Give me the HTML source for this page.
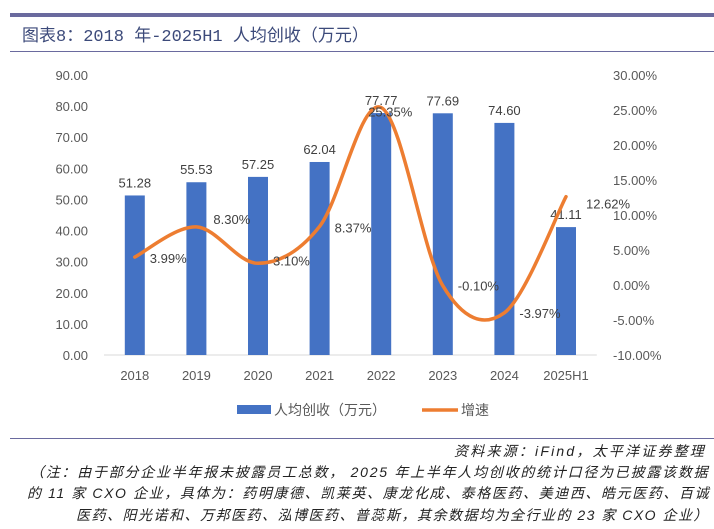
<!DOCTYPE html>
<html><head><meta charset="utf-8"><style>
body{margin:0;width:714px;height:529px;background:#fff;overflow:hidden;font-family:"Liberation Sans","Noto Sans CJK SC",sans-serif;}
.t{position:absolute;white-space:nowrap;}
</style></head><body>
<div style="position:absolute;left:10px;top:13px;width:704px;height:4px;background:#6a6a9e"></div>
<div class="t" style="left:22px;top:21px;font-size:17px;color:#3c4a7a;font-family:'Liberation Mono','Noto Sans CJK SC',sans-serif">图表8：2018 年-2025H1 人均创收（万元）</div>
<div style="position:absolute;left:10px;top:51px;width:704px;height:1px;background:#6a6a9e"></div>
<svg id="c" width="714" height="440" style="position:absolute;left:0;top:0" font-family="Liberation Sans, Noto Sans CJK SC, sans-serif"></svg>
<div style="position:absolute;left:10px;top:438px;width:704px;height:1px;background:#6a6a9e"></div>
<div class="t" style="right:8px;top:441px;font-size:14px;font-style:italic;color:#222;letter-spacing:2.2px">资料来源：iFind，太平洋证券整理</div>
<div class="t" style="left:30px;top:462px;font-size:14px;font-style:italic;color:#222;letter-spacing:1.75px">（注：由于部分企业半年报未披露员工总数， 2025 年上半年人均创收的统计口径为已披露该数据</div>
<div class="t" style="left:27px;top:483px;font-size:14px;font-style:italic;color:#222;letter-spacing:1.6px">的 11 家 CXO 企业，具体为：药明康德、凯莱英、康龙化成、泰格医药、美迪西、皓元医药、百诚</div>
<div class="t" style="left:76px;top:505px;font-size:14px;font-style:italic;color:#222;letter-spacing:1.5px">医药、阳光诺和、万邦医药、泓博医药、普蕊斯，其余数据均为全行业的 23 家 CXO 企业）</div>
<script>
const categories=["2018","2019","2020","2021","2022","2023","2024","2025H1"];
const revenue=[51.28,55.53,57.25,62.04,77.77,77.69,74.60,41.11];
const growth=[3.99,8.30,3.10,8.37,25.35,-0.10,-3.97,12.62];
const leftTicks=[0,10,20,30,40,50,60,70,80,90];
const rightTicks=[-10,-5,0,5,10,15,20,25,30];
const growthLabelDx=[15,17,15,15,-13,15,15,20];
const growthLabelDy=[6,-3,2,6,9,5,5,12];
const svg=document.getElementById('c');
const NS='http://www.w3.org/2000/svg';
const x0=104,step=61.6,yTop=75,yBot=355;
const xc=i=>x0+step*(i+0.5);
const yL=v=>yBot-(v/90)*(yBot-yTop);
const yR=v=>yBot-((v+10)/40)*(yBot-yTop);
function el(t,a){const e=document.createElementNS(NS,t);for(const k in a)e.setAttribute(k,a[k]);svg.appendChild(e);return e;}
leftTicks.forEach(v=>{const e=el('text',{x:88,y:yL(v)+5,'text-anchor':'end','font-size':13,fill:'#595959'});e.textContent=v.toFixed(2);

});
rightTicks.forEach(v=>{const e=el('text',{x:613,y:yR(v)+5,'font-size':13,fill:'#595959'});e.textContent=v.toFixed(2)+'%';

});
const ax=el('line',{x1:x0,x2:x0+step*8,y1:yBot,y2:yBot,stroke:'#d9d9d9'});


categories.forEach((c,i)=>{
const b=el('rect',{x:xc(i)-10,y:yL(revenue[i]),width:20,height:yBot-yL(revenue[i]),fill:'#4472c4'});


const l=el('text',{x:xc(i),y:yL(revenue[i])-8,'text-anchor':'middle','font-size':13,fill:'#404040'});l.textContent=revenue[i].toFixed(2);


const t=el('text',{x:xc(i),y:yBot+25,'text-anchor':'middle','font-size':13,fill:'#595959'});t.textContent=c;


});
const P=growth.map((g,i)=>[xc(i),yR(g)]);
let d='M'+P[0][0]+','+P[0][1];
for(let i=0;i<P.length-1;i++){const p0=P[i-1]||P[i],p1=P[i],p2=P[i+1],p3=P[i+2]||p2;
d+=` C${p1[0]+(p2[0]-p0[0])/6},${p1[1]+(p2[1]-p0[1])/6} ${p2[0]-(p3[0]-p1[0])/6},${p2[1]-(p3[1]-p1[1])/6} ${p2[0]},${p2[1]}`;}
const ln=el('path',{d:d,fill:'none',stroke:'#ed7d31','stroke-width':3.5,'stroke-linecap':'round'});


growth.forEach((g,i)=>{const t=el('text',{x:P[i][0]+growthLabelDx[i],y:P[i][1]+growthLabelDy[i],'font-size':13,fill:'#404040'});t.textContent=g.toFixed(2)+'%';

});
const lb=el('rect',{x:237,y:405,width:34,height:9,fill:'#4472c4'});


const lt=el('text',{x:274,y:415,'font-size':14,fill:'#595959'});lt.textContent='人均创收（万元）';


const ll=el('line',{x1:422,x2:458,y1:410,y2:410,stroke:'#ed7d31','stroke-width':3.5});


const lt2=el('text',{x:461,y:415,'font-size':14,fill:'#595959'});lt2.textContent='增速';


</script>
</body></html>
